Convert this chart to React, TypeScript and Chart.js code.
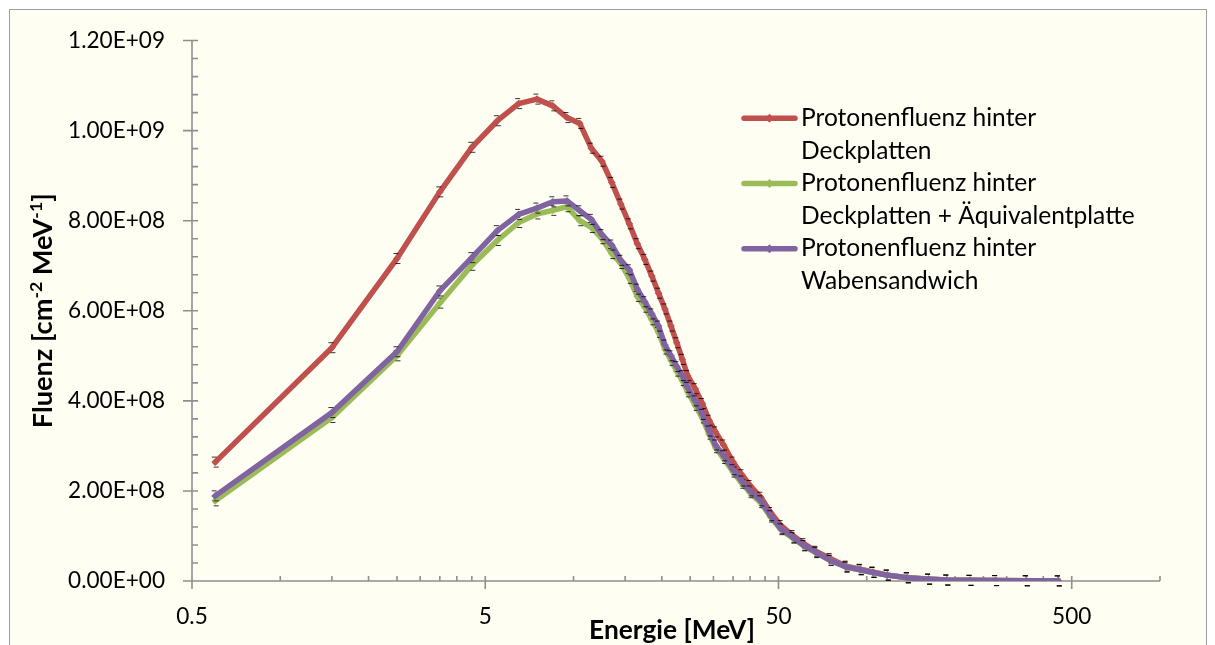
import React, { useEffect, useRef } from "react";
import { Chart, registerables } from "chart.js";
Chart.register(...registerables);

// ---------- data ----------
const energies = [0.6, 1.5, 2.5, 3.5, 4.5, 5.5, 6.5, 7.5, 8.5, 9.5, 10.5, 11.5, 12.5, 13.5, 14.5, 15.5, 16.5, 17.5, 18.5, 19.5, 20.5, 21.5, 22.5, 23.5, 24.5, 26, 27.5, 29, 30.5, 32.5, 35, 37.5, 40, 43.5, 47, 51, 56, 61, 67, 75, 85, 95, 105, 117.5, 137.5, 162.5, 187.5, 225, 275, 350, 450];

const fluenzDeckplatten = [2.64, 5.18, 7.16, 8.64, 9.63, 10.22, 10.6, 10.7, 10.55, 10.29, 10.16, 9.61, 9.32, 8.85, 8.37, 7.93, 7.49, 7.14, 6.77, 6.39, 6.04, 5.66, 5.29, 4.92, 4.56, 4.27, 3.94, 3.57, 3.31, 3.02, 2.64, 2.36, 2.12, 1.86, 1.52, 1.23, 1.01, 0.83, 0.66, 0.5, 0.33, 0.26, 0.2, 0.13, 0.075, 0.042, 0.022, 0.015, 0.01, 0.006, 0.003].map((v) => v * 1e8);

const fluenzAequivalent = [1.78, 3.63, 5.0, 6.17, 7.01, 7.56, 7.96, 8.15, 8.23, 8.31, 8.0, 7.85, 7.6, 7.27, 7.05, 6.72, 6.32, 6.08, 5.8, 5.52, 5.15, 4.9, 4.66, 4.45, 4.2, 3.9, 3.62, 3.26, 2.96, 2.72, 2.42, 2.17, 1.96, 1.74, 1.42, 1.14, 0.95, 0.78, 0.63, 0.46, 0.31, 0.25, 0.19, 0.13, 0.07, 0.04, 0.02, 0.014, 0.009, 0.005, 0.003].map((v) => v * 1e8);

const fluenzWaben = [1.89, 3.74, 5.09, 6.44, 7.18, 7.78, 8.14, 8.28, 8.42, 8.44, 8.22, 8.03, 7.69, 7.46, 7.12, 6.91, 6.48, 6.2, 5.93, 5.66, 5.24, 5.0, 4.76, 4.56, 4.3, 4.0, 3.7, 3.33, 3.02, 2.78, 2.47, 2.22, 2.0, 1.78, 1.45, 1.16, 0.97, 0.79, 0.64, 0.46, 0.31, 0.25, 0.19, 0.13, 0.07, 0.04, 0.02, 0.014, 0.009, 0.005, 0.003].map((v) => v * 1e8);

const seriesNames = [
  ["Protonenfluenz hinter", "Deckplatten"],
  ["Protonenfluenz hinter", "Deckplatten + Äquivalentplatte"],
  ["Protonenfluenz hinter", "Wabensandwich"],
];
const seriesColors = ["#C0504D", "#9BBB59", "#8064A2"];

const xMajorTicks = [0.5, 5, 50, 500];
const xMinorTicks = [1, 1.5, 2, 2.5, 3, 3.5, 4, 4.5, 10, 15, 20, 25, 30, 35, 40, 45, 100, 150, 200, 250, 300, 350, 400, 450, 1000];
const yMajorTicks = [0, 2e8, 4e8, 6e8, 8e8, 1e9, 1.2e9];
const yMinorStep = 4e7;
const xTitle = "Energie [MeV]";

// ---------- layout / style ----------
const FAM = 'Lato, "Open Sans", sans-serif';
const AXIS_COLOR = "#8F8F8F";

function measure(text: string, weight: string, size: number) {
  const c = document.createElement("canvas").getContext("2d")!;
  c.font = `${weight} ${size}px ${FAM}`;
  return c.measureText(text).width;
}
function fit(text: string, weight: string, target: number) {
  return (100 * target) / measure(text, weight, 100);
}
function fmtExp(v: number) {
  if (v === 0) return "0.00E+00";
  const e = Math.floor(Math.log10(Math.abs(v)) + 1e-9);
  const m = v / Math.pow(10, e);
  return `${m.toFixed(2)}E+${String(e).padStart(2, "0")}`;
}

const yTitleParts: [string, boolean][] = [
  ["Fluenz [cm", false],
  ["-2", true],
  [" MeV", false],
  ["-1", true],
  ["]", false],
];
function yTitleWidth(size: number) {
  let w = 0;
  for (const [t, sup] of yTitleParts) w += measure(t, "bold", sup ? size * 0.65 : size);
  return w;
}

export default function App() {
  const ref = useRef<HTMLCanvasElement>(null);
  useEffect(() => {
    const tickSize = fit("1.20E+09", "normal", 97);
    const legendSize = fit("Deckplatten + Äquivalentplatte", "normal", 334);
    const xTitleSize = fit(xTitle, "bold", 166);
    const yTitleSize = (100 * 235) / yTitleWidth(100);

    const decor = {
      id: "decor",
      beforeDraw(chart: any) {
        const ctx = chart.ctx;
        ctx.save();
        ctx.fillStyle = "#FFFFFF";
        ctx.fillRect(0, 0, chart.width, chart.height);
        ctx.fillStyle = "#FEFEF2";
        ctx.fillRect(9.5, 9.5, 1197, 700);
        ctx.strokeStyle = "#A0A0A0";
        ctx.lineWidth = 1;
        ctx.strokeRect(9.5, 9.5, 1197, 700);
        ctx.restore();
      },
      beforeDatasetsDraw(chart: any) {
        const ctx = chart.ctx;
        const xs = chart.scales.x;
        const ys = chart.scales.y;
        const { left, right, top, bottom } = chart.chartArea;
        ctx.save();
        ctx.strokeStyle = AXIS_COLOR;
        ctx.lineWidth = 1.6;
        ctx.beginPath();
        ctx.moveTo(left, top);
        ctx.lineTo(left, bottom);
        ctx.moveTo(left, bottom);
        ctx.lineTo(right, bottom);
        for (let v = ys.min; v <= ys.max + 1; v += yMinorStep) {
          const y = ys.getPixelForValue(v);
          ctx.moveTo(left, y);
          ctx.lineTo(left + 6, y);
        }
        for (const v of yMajorTicks) {
          const y = ys.getPixelForValue(v);
          ctx.moveTo(left - 9, y);
          ctx.lineTo(left + 6, y);
        }
        for (const v of xMinorTicks) {
          const x = xs.getPixelForValue(v);
          ctx.moveTo(x, bottom - 5);
          ctx.lineTo(x, bottom);
        }
        for (const v of xMajorTicks) {
          const x = xs.getPixelForValue(v);
          ctx.moveTo(x, bottom - 5);
          ctx.lineTo(x, bottom + 8);
        }
        ctx.stroke();
        ctx.restore();
      },
      afterDatasetDraw(chart: any, args: any) {
        const ctx = chart.ctx;
        const meta = chart.getDatasetMeta(args.index);
        ctx.save();
        ctx.strokeStyle = "rgba(0,0,0,0.8)";
        ctx.lineWidth = 1;
        ctx.beginPath();
        for (const el of meta.data) {
          const x = el.x, y = el.y;
          ctx.moveTo(x - 3.5, y - 5);
          ctx.lineTo(x + 1.5, y - 5);
          ctx.moveTo(x - 1.5, y + 5);
          ctx.lineTo(x + 3.5, y + 5);
        }
        ctx.stroke();
        ctx.restore();
      },
      afterDraw(chart: any) {
        const ctx = chart.ctx;
        const { top, bottom } = chart.chartArea;
        ctx.save();
        ctx.fillStyle = "#000";
        ctx.font = `bold ${xTitleSize}px ${FAM}`;
        ctx.textAlign = "center";
        ctx.textBaseline = "alphabetic";
        ctx.fillText(xTitle, 672, 639);
        ctx.save();
        ctx.translate(52, (top + bottom) / 2);
        ctx.rotate(-Math.PI / 2);
        ctx.textAlign = "left";
        let x = -yTitleWidth(yTitleSize) / 2;
        for (const [t, sup] of yTitleParts) {
          const s = sup ? yTitleSize * 0.65 : yTitleSize;
          ctx.font = `bold ${s}px ${FAM}`;
          ctx.fillText(t, x, sup ? -yTitleSize * 0.38 : 0);
          x += ctx.measureText(t).width;
        }
        ctx.restore();
        const lineH = 32.6;
        const firstBase = 126;
        ctx.textAlign = "left";
        seriesNames.forEach((lines, i) => {
          const base = firstBase + i * 2 * lineH;
          const sy = base - 7.7;
          ctx.strokeStyle = seriesColors[i];
          ctx.lineWidth = 5.5;
          ctx.lineCap = "round";
          ctx.beginPath();
          ctx.moveTo(744, sy);
          ctx.lineTo(795, sy);
          ctx.stroke();
          ctx.fillStyle = seriesColors[i];
          ctx.beginPath();
          ctx.moveTo(769.5, sy - 4.5);
          ctx.lineTo(774, sy);
          ctx.lineTo(769.5, sy + 4.5);
          ctx.lineTo(765, sy);
          ctx.closePath();
          ctx.fill();
          ctx.fillStyle = "#000";
          ctx.font = `normal ${legendSize}px ${FAM}`;
          lines.forEach((t, j) => ctx.fillText(t, 801, base + j * lineH));
        });
        ctx.restore();
      },
    };

    const all = [fluenzDeckplatten, fluenzAequivalent, fluenzWaben];
    const chart = new Chart(ref.current!, {
      type: "line",
      data: {
        datasets: all.map((vals, i) => ({
          label: seriesNames[i].join(" "),
          data: energies.map((e, k) => ({ x: e, y: vals[k] })),
          borderColor: seriesColors[i],
          backgroundColor: seriesColors[i],
          borderWidth: 5.5,
          borderJoinStyle: "round",
          borderCapStyle: "round",
          pointStyle: "rectRot",
          pointRadius: 3.8,
          pointBackgroundColor: seriesColors[i],
          pointBorderWidth: 0,
          tension: 0,
          fill: false,
          order: 2 - i,
        })),
      },
      options: {
        animation: false,
        responsive: false,
        maintainAspectRatio: false,
        events: [],
        layout: { padding: { left: 0, top: 34, right: 55, bottom: 0 } },
        plugins: { legend: { display: false }, tooltip: { enabled: false } },
        scales: {
          x: {
            type: "logarithmic",
            min: 0.5,
            max: 1000,
            grid: { display: false, drawTicks: false },
            border: { display: false },
            afterBuildTicks: (s: any) => {
              s.ticks = [...xMajorTicks, ...xMinorTicks].sort((a, b) => a - b).map((v) => ({ value: v }));
            },
            afterFit: (s: any) => {
              s.height = 64;
            },
            ticks: {
              autoSkip: false,
              maxRotation: 0,
              minRotation: 0,
              padding: 22,
              color: "#000",
              font: { family: FAM, size: tickSize },
              callback: (v: any) => (xMajorTicks.includes(Number(v)) ? String(v) : ""),
            },
          },
          y: {
            min: 0,
            max: 1.2e9,
            grid: { display: false, drawTicks: false },
            border: { display: false },
            afterFit: (s: any) => {
              s.width = 192;
            },
            afterBuildTicks: (s: any) => {
              s.ticks = yMajorTicks.map((v) => ({ value: v }));
            },
            ticks: {
              padding: 27,
              color: "#000",
              font: { family: FAM, size: tickSize },
              callback: (v: any) => fmtExp(Number(v)),
            },
          },
        },
      },
      plugins: [decor],
    } as any);
    return () => chart.destroy();
  }, []);

  return (
    <div style={{ position: "absolute", left: 0, top: 0, width: 1215, height: 645 }}>
      <canvas ref={ref} width={1215} height={645} style={{ display: "block" }} />
    </div>
  );
}
